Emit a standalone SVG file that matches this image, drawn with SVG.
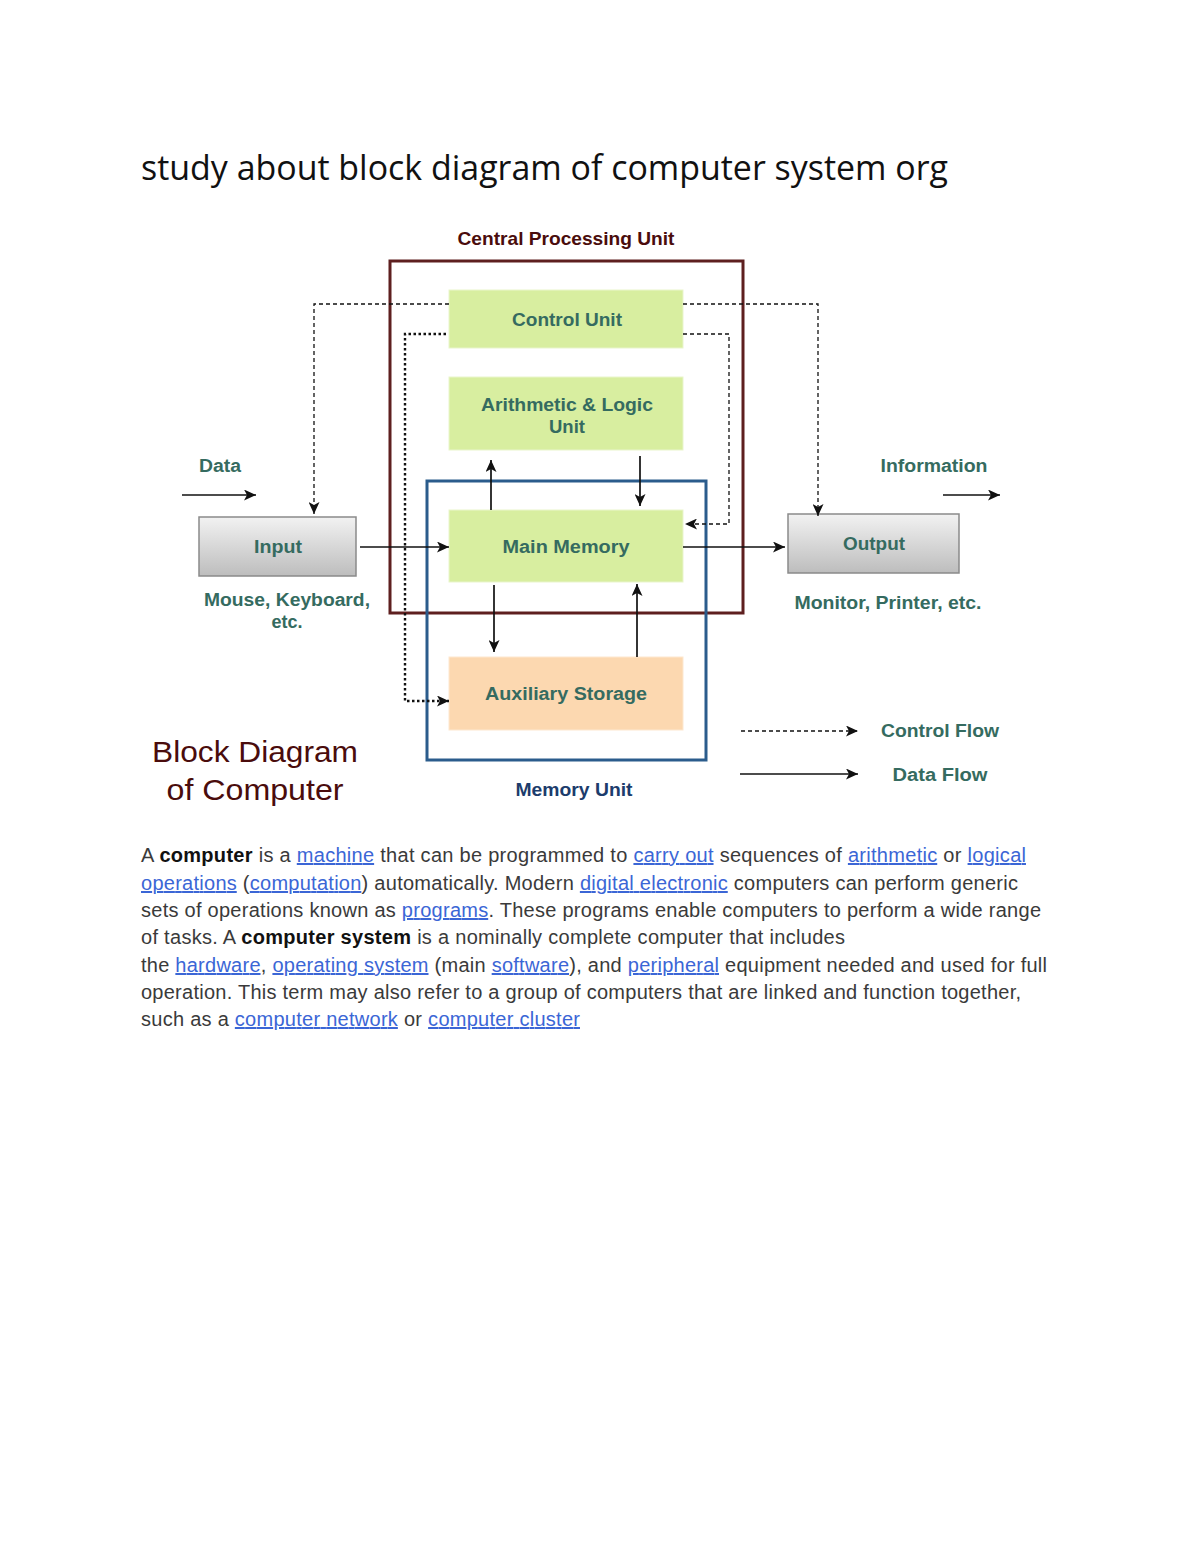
<svg xmlns="http://www.w3.org/2000/svg" width="1200" height="1553" viewBox="0 0 1200 1553">
<defs>
<marker id="arr" markerUnits="userSpaceOnUse" markerWidth="13" markerHeight="11" refX="12" refY="5.5" orient="auto">
<path d="M0,0 L12,5.5 L0,11 L3,5.5 z" fill="#111"/>
</marker>
<linearGradient id="gray" x1="0" y1="0" x2="0" y2="1">
<stop offset="0" stop-color="#f2f2f2"/>
<stop offset="1" stop-color="#bdbdbd"/>
</linearGradient>
<style>
.lbl{font-family:"Liberation Sans",Arial,sans-serif;font-weight:bold;font-size:18px;fill:#356b60;text-anchor:middle}
.green{fill:#d8eea0;stroke:#e9f5cc;stroke-width:1}
.peach{fill:#fcd8b0;stroke:#fde8d0;stroke-width:1}
.grayb{fill:url(#gray);stroke:#8a8a8a;stroke-width:1.5}
.solid{stroke:#111;stroke-width:1.7;fill:none}
.dash{stroke:#111;stroke-width:1.3;fill:none;stroke-dasharray:4 3}
.dot{stroke:#111;stroke-width:2.4;fill:none;stroke-dasharray:2.5 2.5}
.para{font-family:"Liberation Sans",Arial,sans-serif;font-size:20px;fill:#3a3a3a}
.lnk{fill:#3b66d6;text-decoration:underline}
.b{font-weight:bold;fill:#111}
</style>
</defs>
<rect width="1200" height="1553" fill="#fff"/>

<text x="141" y="180" font-family="'Open Sans','Noto Sans',sans-serif" font-size="34" fill="#111" textLength="807" lengthAdjust="spacingAndGlyphs">study about block diagram of computer system org</text>

<g id="cpu">
<rect x="390" y="261" width="353" height="352" fill="none" stroke="#5e1f1f" stroke-width="3"/>
<text x="566" y="245" font-family="'Liberation Sans',Arial,sans-serif" font-weight="bold" font-size="19" fill="#4a0c0c" text-anchor="middle" textLength="217" lengthAdjust="spacingAndGlyphs">Central Processing Unit</text>
</g>

<g id="memory-unit">
<rect x="427" y="481" width="279" height="279" fill="none" stroke="#2b5c8c" stroke-width="3"/>
<text x="574" y="796" font-family="'Liberation Sans',Arial,sans-serif" font-weight="bold" font-size="18" fill="#1c3c6c" text-anchor="middle" textLength="117" lengthAdjust="spacingAndGlyphs">Memory Unit</text>
</g>

<g id="control-unit">
<rect class="green" x="449" y="290" width="234" height="58"/>
<text class="lbl" x="567" y="326" textLength="110" lengthAdjust="spacingAndGlyphs">Control Unit</text>
</g>

<g id="alu">
<rect class="green" x="449" y="377" width="234" height="73"/>
<text class="lbl" x="567" y="411" textLength="172" lengthAdjust="spacingAndGlyphs">Arithmetic &amp; Logic</text>
<text class="lbl" x="567" y="433" textLength="36" lengthAdjust="spacingAndGlyphs">Unit</text>
</g>

<g id="main-memory">
<rect class="green" x="449" y="510" width="234" height="72"/>
<text class="lbl" x="566" y="553" textLength="127" lengthAdjust="spacingAndGlyphs">Main Memory</text>
</g>

<g id="aux-storage">
<rect class="peach" x="449" y="657" width="234" height="73"/>
<text class="lbl" x="566" y="700" textLength="162" lengthAdjust="spacingAndGlyphs">Auxiliary Storage</text>
</g>

<g id="input">
<rect class="grayb" x="199" y="517" width="157" height="59"/>
<text class="lbl" x="278" y="553" textLength="48" lengthAdjust="spacingAndGlyphs">Input</text>
<text class="lbl" x="287" y="606" textLength="166" lengthAdjust="spacingAndGlyphs">Mouse, Keyboard,</text>
<text class="lbl" x="287" y="628">etc.</text>
<text class="lbl" x="220" y="472" textLength="42" lengthAdjust="spacingAndGlyphs">Data</text>
</g>

<g id="output">
<rect class="grayb" x="788" y="514" width="171" height="59"/>
<text class="lbl" x="874" y="550" textLength="62" lengthAdjust="spacingAndGlyphs">Output</text>
<text class="lbl" x="888" y="609" textLength="187" lengthAdjust="spacingAndGlyphs">Monitor, Printer, etc.</text>
<text class="lbl" x="934" y="472" textLength="107" lengthAdjust="spacingAndGlyphs">Information</text>
</g>

<g id="title-block">
<text x="255" y="762" font-family="'Liberation Sans',Arial,sans-serif" font-size="30" fill="#4a0c0c" text-anchor="middle" textLength="206" lengthAdjust="spacingAndGlyphs">Block Diagram</text>
<text x="255" y="800" font-family="'Liberation Sans',Arial,sans-serif" font-size="30" fill="#4a0c0c" text-anchor="middle" textLength="177" lengthAdjust="spacingAndGlyphs">of Computer</text>
</g>

<g id="legend">
<line class="dash" x1="741" y1="731" x2="858" y2="731" marker-end="url(#arr)"/>
<line class="solid" x1="740" y1="774" x2="858" y2="774" stroke-width="2.4" marker-end="url(#arr)"/>
<text class="lbl" x="940" y="737" textLength="118" lengthAdjust="spacingAndGlyphs">Control Flow</text>
<text class="lbl" x="940" y="781" textLength="95" lengthAdjust="spacingAndGlyphs">Data Flow</text>
</g>

<g id="connectors">
<line class="solid" x1="182" y1="495" x2="256" y2="495" marker-end="url(#arr)"/>
<line class="solid" x1="943" y1="495" x2="1000" y2="495" marker-end="url(#arr)"/>
<line class="solid" x1="360" y1="547" x2="449" y2="547" marker-end="url(#arr)"/>
<line class="solid" x1="683" y1="547" x2="785" y2="547" marker-end="url(#arr)"/>
<line class="solid" x1="491" y1="510" x2="491" y2="460" marker-end="url(#arr)"/>
<line class="solid" x1="640" y1="456" x2="640" y2="506" marker-end="url(#arr)"/>
<line class="solid" x1="494" y1="585" x2="494" y2="652" marker-end="url(#arr)"/>
<line class="solid" x1="637" y1="657" x2="637" y2="584" marker-end="url(#arr)"/>
<polyline class="dash" points="449,304 314,304 314,514" marker-end="url(#arr)"/>
<polyline class="dash" points="683,304 818,304 818,516" marker-end="url(#arr)"/>
<polyline class="dot" points="446,334 405,334 405,701 449,701" marker-end="url(#arr)"/>
<polyline class="dash" stroke-width="1.7" points="683,334 729,334 729,524 685,524" marker-end="url(#arr)"/>
</g>

<g id="paragraph" class="para">
<text x="141" y="862" textLength="885" lengthAdjust="spacing">A <tspan class="b">computer</tspan> is a <tspan class="lnk">machine</tspan> that can be programmed to <tspan class="lnk">carry out</tspan> sequences of <tspan class="lnk">arithmetic</tspan> or <tspan class="lnk">logical </tspan></text>
<text x="141" y="890" textLength="877" lengthAdjust="spacing"><tspan class="lnk">operations</tspan> (<tspan class="lnk">computation</tspan>) automatically. Modern <tspan class="lnk">digital electronic</tspan> computers can perform generic</text>
<text x="141" y="917" textLength="900" lengthAdjust="spacing">sets of operations known as <tspan class="lnk">programs</tspan>. These programs enable computers to perform a wide range</text>
<text x="141" y="944" textLength="704" lengthAdjust="spacing">of tasks. A <tspan class="b">computer system</tspan> is a nominally complete computer that includes</text>
<text x="141" y="972" textLength="906" lengthAdjust="spacing">the <tspan class="lnk">hardware</tspan>, <tspan class="lnk">operating system</tspan> (main <tspan class="lnk">software</tspan>), and <tspan class="lnk">peripheral</tspan> equipment needed and used for full</text>
<text x="141" y="999" textLength="880" lengthAdjust="spacing">operation. This term may also refer to a group of computers that are linked and function together,</text>
<text x="141" y="1026" textLength="439" lengthAdjust="spacing">such as a <tspan class="lnk">computer network</tspan> or <tspan class="lnk">computer cluster</tspan></text>
</g>
</svg>
